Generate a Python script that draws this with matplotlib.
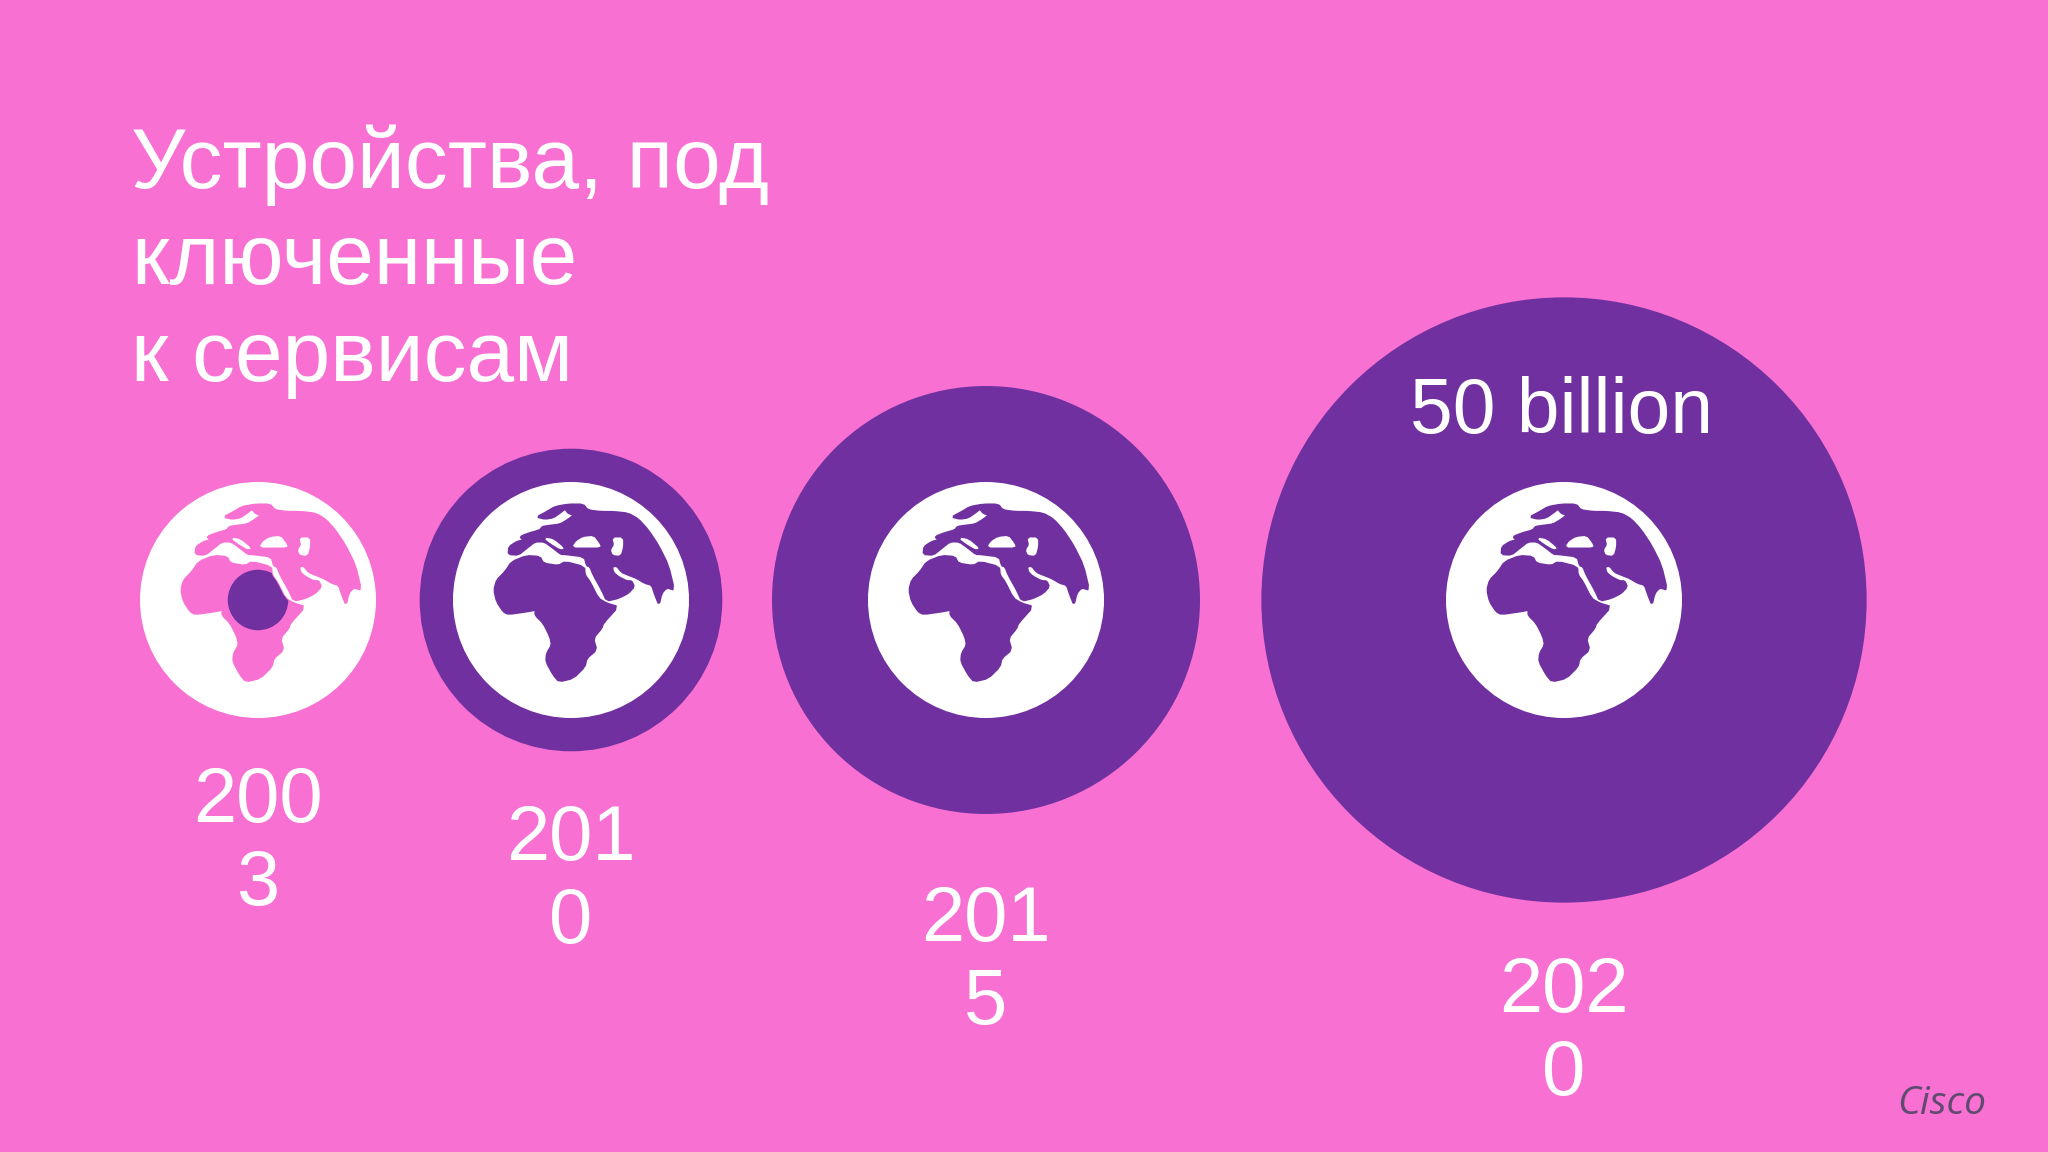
import numpy as np
import matplotlib
matplotlib.use("Agg")
import matplotlib.pyplot as plt
from matplotlib.patches import Circle, Polygon

plt.rcParams['font.family'] = ['Liberation Sans', 'DejaVu Sans']

bg = "#f870d2"
purple = "#7030a0"

# Chart data
years = ["2003", "2010", "2015", "2020"]
billions = [0.5, 12.5, 25, 50]
title_lines = ["Устройства, под", "ключенные", "к сервисам"]

# Globe outlines, px from the centre of a globe of radius 118
eurasia = [(-62.7, -45.7), (-62, -53.3), (-54.3, -58.3), (-47.7, -60), (-51, -63.3), (-42.7, -66.7), (-31, -70),
           (-28.7, -73.3), (-22.7, -74.3), (-11, -75.7), (-2.7, -80.7), (2.7, -85), (-2.7, -86.7), (-6, -91),
           (-10, -87.7), (-17.7, -82.3), (-26, -81), (-34.3, -83), (-24.3, -88.3), (-16, -93.3), (-2.7, -95.7),
           (12.3, -95.7), (16.7, -90), (29, -88.3), (42.3, -88.3), (57.3, -86.7), (67.3, -81), (77.3, -70),
           (87.3, -55), (97.3, -35), (103.3, -10), (95.7, -12.3), (90.7, -6.7), (88, 5), (84, -5), (80.7, -15),
           (74, -16.7), (65.7, -21.7), (57.3, -25), (50.7, -27.7), (45.7, -34), (41.3, -33.3), (42.3, -27.7),
           (47.3, -23.3), (55.7, -19), (60.7, -19), (63.3, -13.3), (57.3, -6.7), (47.3, -1.7), (35.7, 1),
           (30.7, -10), (22.3, -25), (19, -33.3), (15.7, -34.3), (13.3, -43.3), (-6, -45.7), (-10, -45.7),
           (-17.7, -51.7), (-26.7, -58.3), (-36, -58.3), (-44.3, -51.7), (-52.7, -45)]
africa = [(13.3, -33.3), (14, -25), (19, -18.3), (27.3, -1.7), (35.7, 3.3), (47.3, 6.7), (32.3, 23.3), (30.7, 28.3),
          (22.3, 38.3), (25.7, 50), (15.7, 58.3), (14, 66.7), (2.3, 78.3), (-12, 81.7), (-17.7, 75), (-25, 61.7),
          (-24.3, 53.3), (-19.3, 45), (-21, 36.7), (-27.7, 23.3), (-36, 15), (-35.3, 10), (-44.3, 11.7),
          (-62.7, 14.3), (-67.7, 11.7), (-74.3, 1.7), (-77, -10), (-74.3, -20), (-66, -28.3), (-59.3, -38.3),
          (-44.3, -44.3), (-31, -43.3), (-27.7, -36.7), (-12.7, -34.3), (-6, -38.3)]
black_sea = [(2.3, -53.3), (5.7, -58.3), (12.3, -62.3), (22.3, -63.3), (27.3, -56.7), (29, -53.3), (14, -53.3)]
caspian = [(42.3, -61.7), (51.3, -61.7), (51.3, -53.3), (49, -45), (42.3, -45.7), (40.7, -50), (44, -55)]
adriatic = [(-26, -61.7), (-17.7, -60), (-7.7, -51.7), (-11, -51.7), (-19.3, -56.7)]

centres_x = [258, 571, 986, 1564]
centre_y = 600
globe_r = 118
k = 42.8  # bubble area is proportional to the value
label_y = [843, 881, 962, 1033]

fig = plt.figure(figsize=(20.48, 11.52), dpi=100, facecolor=bg)
ax = fig.add_axes([0, 0, 1, 1])
ax.set_xlim(0, 2048)
ax.set_ylim(1152, 0)
ax.axis("off")


def land(pts, cx, col, z):
    # cut the corners once so the coast is not jagged
    arr = np.array(pts, dtype=float)
    nxt = np.roll(arr, -1, axis=0)
    arr = np.column_stack((0.8 * arr + 0.2 * nxt, 0.2 * arr + 0.8 * nxt)).reshape(-1, 2)
    p = Polygon(arr + [cx, centre_y], fc=col, ec=col, lw=1.2, joinstyle="round", zorder=z)
    ax.add_patch(p)
    return p


for i, year in enumerate(years):
    cx = centres_x[i]
    r = k * np.sqrt(billions[i])
    small = r < globe_r
    land_col = bg if small else purple

    if not small:
        ax.add_patch(Circle((cx, centre_y), r, fc=purple, ec="none", zorder=1))
    ax.add_patch(Circle((cx, centre_y), globe_r, fc="white", ec="none", zorder=2))
    land(eurasia, cx, land_col, 3)
    af = land(africa, cx, land_col, 3)
    land(black_sea, cx, "white", 4)
    land(caspian, cx, "white", 4)
    land(adriatic, cx, "white", 4)

    if small:
        # the 2003 bubble sits on Africa and stops at the Red Sea
        dot = Circle((cx, centre_y), r, fc=purple, ec="none", zorder=5)
        ax.add_patch(dot)
        dot.set_clip_path(af)

    ax.text(cx, label_y[i], year[:3] + "\n" + year[3:], color="white", fontsize=56, ha="center",
            va="center", linespacing=1.19, zorder=6)

ax.text(1561, 412, "50 billion", color="white", fontsize=55.3, ha="center", va="center", zorder=6)

for i, line in enumerate(title_lines):
    ax.text(131, 165 + i * 97, line, color="white", fontsize=61.7, ha="left", va="center", zorder=6)

ax.text(1942, 1104, "Cisco", color="#5f4a70", fontsize=28, style="italic", family=["Open Sans", "DejaVu Sans"],
        ha="center", va="center", zorder=6)

fig.savefig("out.png", dpi=100, facecolor=bg)
